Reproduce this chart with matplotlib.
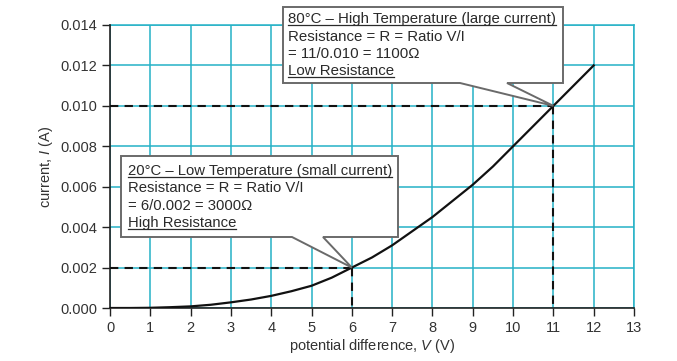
import matplotlib
matplotlib.use("Agg")
import matplotlib.pyplot as plt
from matplotlib.patches import Polygon
from matplotlib.lines import Line2D

plt.rcParams['font.family'] = ['Liberation Sans', 'DejaVu Sans']
plt.rcParams['mathtext.fontset'] = 'custom'
plt.rcParams['mathtext.rm'] = 'Liberation Sans'
plt.rcParams['mathtext.it'] = 'Liberation Sans:italic'

# data
voltage = [0, 0.5, 1, 1.5, 2, 2.5, 3, 3.5, 4, 4.5, 5, 5.5, 6, 6.5, 7, 7.5, 8, 8.5, 9, 9.5, 10, 10.5, 11, 11.5, 12]
current = [0, 0.0, 0.00001, 0.00004, 0.00008, 0.00016, 0.00028, 0.00042, 0.0006, 0.00083, 0.0011,
           0.0015, 0.002, 0.0025, 0.0031, 0.0038, 0.0045, 0.0053, 0.0061, 0.007, 0.008, 0.009, 0.010, 0.011, 0.012]
x_ticks = list(range(0, 14))
y_ticks = [0.000, 0.002, 0.004, 0.006, 0.008, 0.010, 0.012, 0.014]
marked_points = [(6, 0.002), (11, 0.010)]
box1_lines = ["20°C – Low Temperature (small current)",
              "Resistance = R = Ratio V/I",
              "= 6/0.002 = 3000Ω",
              "High Resistance"]
box2_lines = ["80°C – High Temperature (large current)",
              "Resistance = R = Ratio V/I",
              "= 11/0.010 = 1100Ω",
              "Low Resistance"]

W, H = 677, 361
fig = plt.figure(figsize=(W / 100, H / 100), dpi=100)
ax = fig.add_axes([110 / W, 1 - 308 / H, (634 - 110) / W, (308 - 25) / H])

grid_c = '#25b2c6'
ax.set_xlim(0, 13)
ax.set_ylim(0, 0.014)
ax.set_xticks(x_ticks)
ax.set_yticks(y_ticks)
ax.set_yticklabels([f"{v:.3f}" for v in y_ticks])
ax.grid(True, color=grid_c, linewidth=1.1, zorder=0)
ax.set_axisbelow(True)
for s in ['top', 'right']:
    ax.spines[s].set_visible(False)
for s in ['left', 'bottom']:
    ax.spines[s].set_color('#222222')
    ax.spines[s].set_linewidth(1.2)
ax.tick_params(direction='out', length=6, width=1.0, colors='#222222',
               labelsize=10.5, labelcolor='#333333', pad=3)
# grid lines at outer limits
ax.axhline(0.014, color=grid_c, linewidth=1.1, clip_on=False, zorder=0)
ax.axvline(13, color=grid_c, linewidth=1.1, clip_on=False, zorder=0)

ax.plot(voltage, current, color='#111111', linewidth=1.6, zorder=3)

for (vx, vy) in marked_points:
    ax.plot([0, vx], [vy, vy], color='#111111', linestyle=(0, (4, 3)), linewidth=1.5, zorder=3)
    ax.plot([vx, vx], [vy, 0], color='#111111', linestyle=(0, (4, 3)), linewidth=1.5, zorder=3)

ax.set_xlabel(r"potential difference, $\it{V}$ (V)", fontsize=10.5, color='#333333', labelpad=2)
ax.set_ylabel(r"current, $\it{I}$ (A)", fontsize=10.5, color='#333333', labelpad=4)


def px2data(px, py):
    x = (px - 110) / (634 - 110) * 13
    y = (308 - py) / (308 - 25) * 0.014
    return (x, y)


def callout(left, top, right, bottom, base_l, base_r, tip):
    pts = [px2data(left, top), px2data(right, top), px2data(right, bottom),
           px2data(base_r, bottom), tip, px2data(base_l, bottom), px2data(left, bottom)]
    poly = Polygon(pts, closed=True, facecolor='white', edgecolor='#6a6a6a',
                   linewidth=1.4, zorder=5, clip_on=False)
    ax.add_patch(poly)


callout(121, 156, 398, 237, 292, 323, marked_points[0])
callout(283, 7, 563, 83, 460, 507, marked_points[1])

renderer = fig.canvas.get_renderer()
box_font = ['Liberation Sans', 'DejaVu Sans']


def place_lines(lines, left, baselines, target_w):
    # find font size giving the target width for the first line
    t = fig.text(0, 0, lines[0], fontsize=10, family=box_font)
    w = t.get_window_extent(renderer).width
    t.remove()
    fs = 10 * target_w / w
    for i, (s, by) in enumerate(zip(lines, baselines)):
        txt = fig.text(left / W, 1 - by / H, s, fontsize=fs, color='#2a2a2a',
                       va='baseline', ha='left', zorder=6, family=box_font)
        if i in (0, len(lines) - 1):
            bb = txt.get_window_extent(renderer)
            yy = (H - by - 2.2) / H
            fig.add_artist(Line2D([bb.x0 / W, bb.x1 / W], [yy, yy], color='#2a2a2a',
                                  linewidth=0.9, zorder=6))


place_lines(box1_lines, 128, [175, 192, 210, 227], 265)
place_lines(box2_lines, 288, [23, 41, 58, 75], 269)

fig.savefig("out.png", dpi=100, facecolor='white')
